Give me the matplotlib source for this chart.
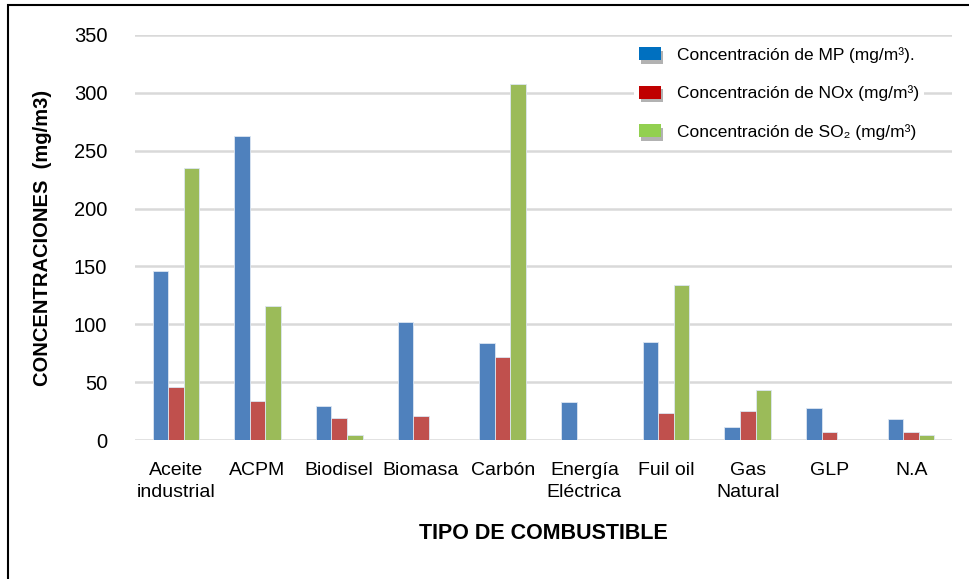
import matplotlib
matplotlib.use("Agg")
import matplotlib.pyplot as plt
import numpy as np
from matplotlib.patches import Rectangle, Patch
from matplotlib.legend_handler import HandlerPatch
import matplotlib.patheffects as pe

plt.rcParams['font.family'] = ['Liberation Sans', 'DejaVu Sans']

categories = ["Aceite\nindustrial", "ACPM", "Biodisel", "Biomasa", "Carbón",
              "Energía\nEléctrica", "Fuil oil", "Gas\nNatural", "GLP", "N.A"]
mp = [146, 263, 29, 102, 84, 33, 85, 11, 28, 18]
nox = [46, 34, 19, 21, 72, 0, 23, 25, 7, 7]
so2 = [235, 116, 4, 0, 308, 0, 134, 43, 0, 4]
series_labels = ["Concentración de MP (mg/m³).",
                 "Concentración de NOx (mg/m³)",
                 "Concentración de SO₂ (mg/m³)"]
yticks = [0, 50, 100, 150, 200, 250, 300, 350]

bar_colors = ["#4F81BD", "#C0504D", "#9BBB59"]
legend_colors = ["#0070C0", "#C00000", "#92D050"]


class ShadowPatchHandler(HandlerPatch):
    def create_artists(self, legend, orig_handle, xdescent, ydescent,
                       width, height, fontsize, trans):
        p = Rectangle((-xdescent, -ydescent), width, height,
                      facecolor=orig_handle.get_facecolor(), edgecolor='none',
                      transform=trans)
        p.set_path_effects([pe.SimplePatchShadow(offset=(1.5, -2.5),
                                                 shadow_rgbFace='#555555',
                                                 alpha=0.45),
                            pe.Normal()])
        return [p]


fig = plt.figure(figsize=(9.69, 5.79), dpi=100)
ax = fig.add_axes([135/969, 1-440/579, (952-135)/969, (440-35)/579])

x = np.arange(len(categories))
w = 0.19
for i, vals in enumerate([mp, nox, so2]):
    ax.bar(x + (i-1)*w, vals, width=w, color=bar_colors[i],
           edgecolor="#dce6f2", linewidth=0.6, zorder=3)

ax.set_ylim(0, 350)
ax.set_xlim(-0.5, len(categories)-0.5)
ax.set_yticks(yticks)
ax.set_xticks(x)
ax.set_xticklabels(categories, fontsize=14, linespacing=1.35)
ax.tick_params(axis='y', labelsize=14.5, length=0, pad=20)
ax.tick_params(axis='x', length=0, pad=16)
ax.grid(axis='y', color="#d9d9d9", linewidth=1.8, zorder=0)
ax.set_axisbelow(True)
for s in ax.spines.values():
    s.set_visible(False)

ax.set_ylabel("CONCENTRACIONES  (mg/m3)", fontsize=14.5, fontweight='bold', labelpad=16)
ax.set_xlabel("TIPO DE COMBUSTIBLE", fontsize=15.5, fontweight='bold', labelpad=16)

handles = [Patch(facecolor=c, edgecolor='none') for c in legend_colors]
leg = ax.legend(handles, series_labels, loc='upper right',
                bbox_to_anchor=(0.9765, 1.005), frameon=True, fontsize=12.5,
                handlelength=1.27, handleheight=0.8, handletextpad=0.9,
                labelspacing=1.3, borderpad=0.3,
                handler_map={Patch: ShadowPatchHandler()})
leg.get_frame().set_facecolor('white')
leg.get_frame().set_edgecolor('none')
leg.get_frame().set_alpha(1)
leg.set_zorder(5)

fig.patches.append(Rectangle((8/969, -0.1), 1.2, 1.1 - 5/579,
                             transform=fig.transFigure, fill=False,
                             edgecolor='black', linewidth=1.5))

fig.savefig("out.png", dpi=100)
